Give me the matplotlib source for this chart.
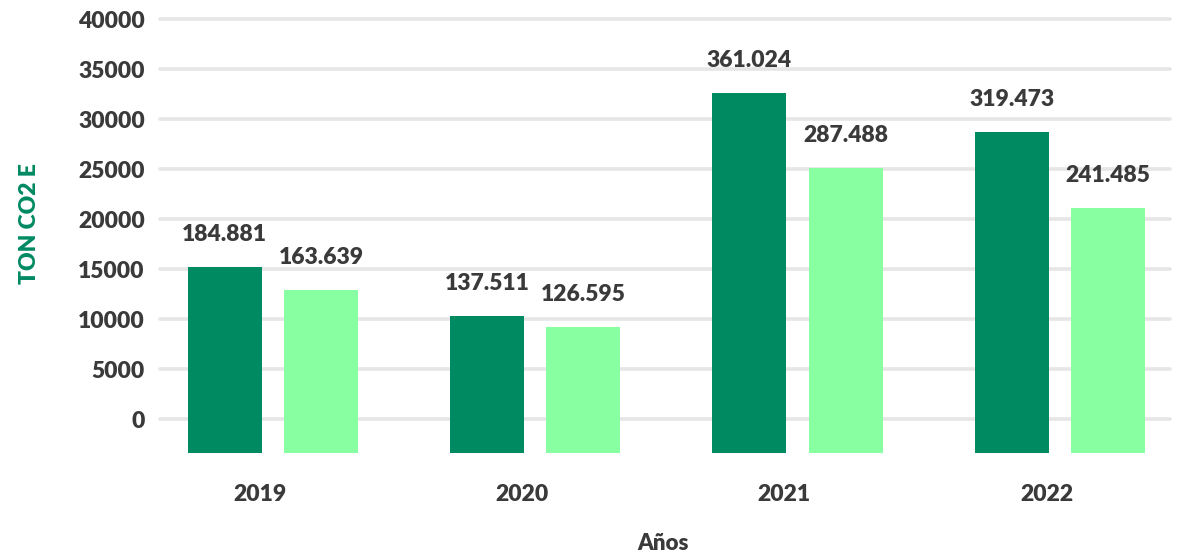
import numpy as np
import matplotlib.pyplot as plt

# data
years = ["2019", "2020", "2021", "2022"]
serie_a = [15200, 10300, 32600, 28700]
serie_b = [12900, 9200, 25100, 21100]
labels_a = ["184.881", "137.511", "361.024", "319.473"]
labels_b = ["163.639", "126.595", "287.488", "241.485"]
yticks = [0, 5000, 10000, 15000, 20000, 25000, 30000, 35000, 40000]
base = -3400  # bars start below zero in the original

plt.rcParams['font.family'] = ['Lato', 'DejaVu Sans']
txt_col = "#3a3a3a"
dark = "#008A62"
light = "#88FFA0"
wt = "heavy"

fig = plt.figure(figsize=(11.86, 5.55), dpi=100)
ax = fig.add_axes([160 / 1186, 102 / 555, 1010 / 1186, 437 / 555])

x = np.arange(len(years))
w = 0.282
off = 0.184
ax.bar(x - off, np.array(serie_a) - base, w, bottom=base, color=dark, zorder=3)
ax.bar(x + off, np.array(serie_b) - base, w, bottom=base, color=light, zorder=3)

for i in range(len(years)):
    ax.text(x[i] - off, serie_a[i] + 2200, labels_a[i], ha="center", va="bottom",
            fontsize=16.5, fontweight=wt, color=txt_col)
    ax.text(x[i] + off, serie_b[i] + 2200, labels_b[i], ha="center", va="bottom",
            fontsize=16.5, fontweight=wt, color=txt_col)

ax.set_xlim(-0.43, 3.42)
ax.set_ylim(base, 40300)
ax.set_yticks(yticks)
ax.set_yticklabels([str(v) for v in yticks])
ax.set_xticks(x - 0.05)
ax.set_xticklabels(years)
ax.tick_params(axis="y", length=0, pad=11, labelsize=16.5, labelcolor=txt_col)
ax.tick_params(axis="x", length=0, pad=22, labelsize=16.5, labelcolor=txt_col)
for lbl in ax.get_xticklabels() + ax.get_yticklabels():
    lbl.set_fontweight(wt)

for y in yticks:
    ax.axhline(y, color="#e6e6e6", lw=2.6, solid_capstyle="round", zorder=1, clip_on=False)

for s in ax.spines.values():
    s.set_visible(False)

fig.text(30 / 1186, 1 - 224 / 555, "TON CO2 E", rotation=90, ha="center", va="center",
         fontsize=16.5, fontweight=wt, color=dark)
fig.text(663 / 1186, 1 - 543 / 555, "Años", ha="center", va="center",
         fontsize=16, fontweight=wt, color=txt_col)

fig.savefig("out.png", dpi=100)
